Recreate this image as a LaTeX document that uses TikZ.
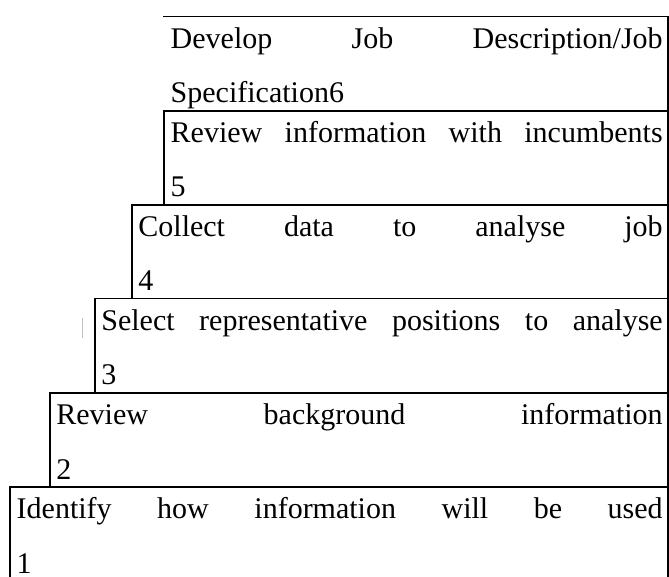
\documentclass[tikz,border=0pt]{standalone}
\usepackage{fontspec}
\setmainfont{Liberation Serif}
\begin{document}
\begin{tikzpicture}[x=1pt,y=-1pt,
  rule/.style={line width=1.6pt, line cap=rect},
  txt/.style={anchor=base west, inner sep=0pt, font=\fontsize{30}{36}\selectfont},
  tick/.style={line width=0.7pt, gray!50}]
\useasboundingbox (0,0) rectangle (669,576);
% box tops and lefts
\def\R{668}
\def\TR{662.5}
% box 6
\coordinate (t6) at (164,16.5);
\coordinate (t5) at (164,110.7);
\coordinate (t4) at (131.7,204.7);
\coordinate (t3) at (94.7,298.5);
\coordinate (t2) at (49.7,393);
\coordinate (t1) at (10,487);
\coordinate (b1) at (10,576);
\coordinate (rtop) at (\R,16.5);
\coordinate (rbot) at (\R,576);
% top lines
\draw[rule] (t6) -- (\R,16.5);
\draw[rule] (t5) -- (\R,110.7);
\draw[rule] (t4) -- (\R,204.7);
\draw[rule] (t3) -- (\R,298.5);
\draw[rule] (t2) -- (\R,393);
\draw[rule] (t1) -- (\R,487);
% left lines
\draw[rule] (t5) -- (164,204.7);
\draw[rule] (t4) -- (131.7,298.5);
\draw[rule] (t3) -- (94.7,393);
\draw[rule] (t2) -- (49.7,487);
\draw[rule] (t1) -- (b1);
% right line
\draw[rule] (rtop) -- (rbot);
% texts
\node[txt] (l6a) at (170.5,48) {\makebox[\dimexpr\TR pt-170.5pt\relax][s]{Develop Job Description/Job}};
\node[txt] (l6b) at (170.5,102.5) {Specification6};
\node[txt] (l5a) at (170.5,142) {\makebox[\dimexpr\TR pt-170.5pt\relax][s]{Review information with incumbents}};
\node[txt] (l5b) at (170.5,196.5) {5};
\node[txt] (l4a) at (138.2,236) {\makebox[\dimexpr\TR pt-138.2pt\relax][s]{Collect data to analyse job}};
\node[txt] (l4b) at (138.2,290.5) {4};
\node[txt] (l3a) at (101.2,330) {\makebox[\dimexpr\TR pt-101.2pt\relax][s]{Select representative positions to analyse}};
\node[txt] (l3b) at (101.2,384.5) {3};
\node[txt] (l2a) at (56.2,424.5) {\makebox[\dimexpr\TR pt-56.2pt\relax][s]{Review background information}};
\node[txt] (l2b) at (56.2,479) {2};
\node[txt] (l1a) at (16.5,518.5) {\makebox[\dimexpr\TR pt-16.5pt\relax][s]{Identify how information will be used}};
\node[txt] (l1b) at (16.5,573) {1};
% small grey tick
\coordinate (g1) at (82.7,318);
\coordinate (g2) at (82.7,338);
\draw[tick] (g1) -- (g2);
\end{tikzpicture}
\end{document}
